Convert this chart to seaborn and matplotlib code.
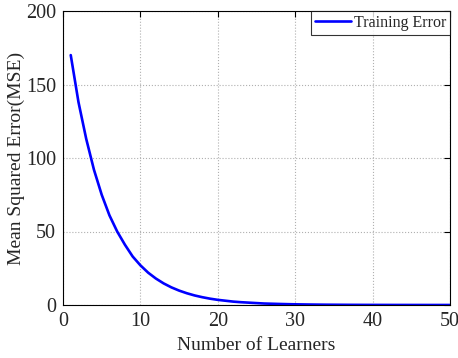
import matplotlib
matplotlib.use("Agg")
import matplotlib.pyplot as plt
import seaborn as sns
import pandas as pd

learners = list(range(1, 51))
mse = [170, 138, 113, 92, 75, 61, 50, 41, 33, 27,
       22, 18, 14.7, 12, 9.8, 8.0, 6.5, 5.3, 4.3, 3.5,
       2.9, 2.3, 1.9, 1.6, 1.3, 1.0, 0.85, 0.7, 0.57, 0.46,
       0.38, 0.31, 0.25, 0.2, 0.17, 0.14, 0.11, 0.09, 0.07, 0.06,
       0.05, 0.04, 0.03, 0.03, 0.02, 0.02, 0.01, 0.01, 0.01, 0.01]
x_ticks = [0, 10, 20, 30, 40, 50]
y_ticks = [0, 50, 100, 150, 200]

sns.set_style("white")
plt.rcParams['font.family'] = ['Liberation Serif', 'DejaVu Serif']

df = pd.DataFrame({"Number of Learners": learners, "MSE": mse})

fig = plt.figure(figsize=(4.58, 3.58), dpi=100)
ax = fig.add_axes([63/458, 53/358, 387/458, 294/358])
sns.lineplot(data=df, x="Number of Learners", y="MSE", ax=ax,
             color=(0, 0, 1), linewidth=1.9, label="Training Error")

ax.set_xlim(0, 50)
ax.set_ylim(0, 200)
ax.set_xticks(x_ticks)
ax.set_yticks(y_ticks)
ax.tick_params(direction='in', top=True, right=True, labelsize=14.5,
               length=4, width=0.8, colors='black', pad=5)
for lab in ax.get_xticklabels() + ax.get_yticklabels():
    lab.set_color('#262626')
ax.grid(True, linestyle=':', color='#b0b0b0', linewidth=0.8)
for s in ax.spines.values():
    s.set_color('black')
    s.set_linewidth(0.8)
ax.set_xlabel("Number of Learners", fontsize=14, color='#262626', labelpad=4)
ax.set_ylabel("Mean Squared Error(MSE)", fontsize=14, color='#262626', labelpad=1)

leg = ax.legend(loc='upper right', fontsize=11.5, frameon=True, fancybox=False,
                borderaxespad=0, handlelength=2.25, handletextpad=0.15,
                borderpad=0.25)
leg.get_frame().set_edgecolor('black')
leg.get_frame().set_linewidth(0.8)

fig.savefig("out.png", dpi=100)
